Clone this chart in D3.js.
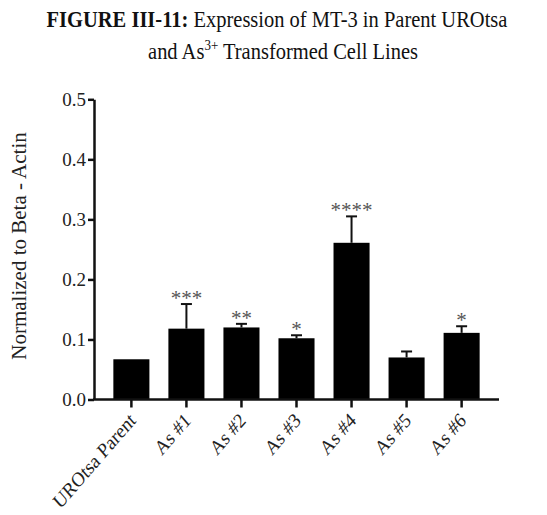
<!DOCTYPE html>
<html>
<head>
<meta charset="utf-8">
<script src="https://cdn.jsdelivr.net/npm/d3@7"></script>
<style>
  html, body { margin: 0; padding: 0; background: #fff; }
  svg { display: block; }
  text { font-family: "Liberation Serif", "Times New Roman", serif; }
</style>
</head>
<body>
<svg id="chart" width="547" height="515"></svg>
<script>
const categories = ["UROtsa Parent", "As #1", "As #2", "As #3", "As #4", "As #5", "As #6"];
const means = [0.067, 0.118, 0.120, 0.102, 0.261, 0.070, 0.111];
const errors = [0.0, 0.041, 0.006, 0.005, 0.044, 0.010, 0.011];
const significance = ["", "***", "**", "*", "****", "", "*"];
const yTicks = [0.0, 0.1, 0.2, 0.3, 0.4, 0.5];

const svg = d3.select("#chart");
const axisLeft = 94, axisRight = 499, yTop = 99.3, yBottom = 399.5;

const x = d3.scaleBand().domain(categories).range([104, 489]).paddingInner(0.345).paddingOuter(0.17);
const y = d3.scaleLinear().domain([0, 0.5]).range([yBottom, yTop]);

// Title (slightly vertically stretched, as in the scanned reference)
const title = svg.append("text").attr("transform", "translate(277,27) scale(1,1.15)").attr("text-anchor", "middle")
  .attr("font-size", 20.5).attr("fill", "#111");
title.append("tspan").attr("font-weight", "bold").text("FIGURE III-11:");
title.append("tspan").text(" Expression of MT-3 in Parent UROtsa");
const t2 = svg.append("text").attr("transform", "translate(283,59) scale(1,1.15)").attr("text-anchor", "middle")
  .attr("font-size", 20.5).attr("fill", "#111");
t2.append("tspan").text("and As");
t2.append("tspan").attr("font-size", 13).attr("dy", -8).text("3+");
t2.append("tspan").attr("dy", 8).text(" Transformed Cell Lines");

// Bars
svg.append("g").selectAll("rect").data(categories).join("rect")
  .attr("x", d => x(d))
  .attr("width", x.bandwidth())
  .attr("y", (d, i) => y(means[i]))
  .attr("height", (d, i) => y(0) - y(means[i]))
  .attr("fill", "#000");

// Error bars (upper only)
const eg = svg.append("g").attr("stroke", "#111").attr("stroke-width", 2);
categories.forEach((c, i) => {
  if (errors[i] <= 0) return;
  const cx = x(c) + x.bandwidth() / 2;
  eg.append("line").attr("x1", cx).attr("x2", cx).attr("y1", y(means[i])).attr("y2", y(means[i] + errors[i]));
  eg.append("line").attr("x1", cx - 5.5).attr("x2", cx + 5.5).attr("y1", y(means[i] + errors[i])).attr("y2", y(means[i] + errors[i]));
});

// Significance stars
svg.append("g").selectAll("text").data(categories).join("text")
  .attr("x", d => x(d) + x.bandwidth() / 2)
  .attr("y", (d, i) => y(means[i] + errors[i]) + 1)
  .attr("text-anchor", "middle")
  .attr("font-size", 21)
  .attr("fill", "#555")
  .text((d, i) => significance[i]);

// Y axis
const yAxis = d3.axisLeft(y).tickValues(yTicks).tickFormat(d3.format(".1f")).tickSize(6).tickSizeOuter(0);
const gy = svg.append("g").attr("transform", `translate(${axisLeft},0)`).call(yAxis);
gy.select(".domain").attr("stroke", "#111").attr("stroke-width", 2.5);
gy.selectAll(".tick line").attr("stroke", "#111").attr("stroke-width", 2.5);
gy.selectAll(".tick text").attr("font-family", "Liberation Serif, serif").attr("font-size", 19).attr("fill", "#222")
  .attr("x", -8).attr("dy", "0.34em");

// X axis
const xAxis = d3.axisBottom(x).tickSize(8).tickSizeOuter(0);
const gx = svg.append("g").attr("transform", `translate(0,${yBottom})`).call(xAxis);
gx.select(".domain").remove();
gx.append("line").attr("x1", axisLeft - 1).attr("x2", axisRight).attr("y1", 0).attr("y2", 0)
  .attr("stroke", "#111").attr("stroke-width", 2.5);
gx.selectAll(".tick line").attr("stroke", "#111").attr("stroke-width", 2.5);
gx.selectAll(".tick text").attr("font-family", "Liberation Serif, serif").attr("font-size", 18).attr("fill", "#222")
  .attr("text-anchor", "end").attr("transform", "translate(1,17) scale(1,1.15) rotate(-45)")
  .attr("x", 0).attr("y", 0).attr("dy", "0.35em");

// Y label
svg.append("text").attr("transform", `translate(26,246) rotate(-90)`)
  .attr("text-anchor", "middle").attr("font-size", 21).attr("fill", "#222")
  .text("Normalized to Beta - Actin");
</script>
</body>
</html>
